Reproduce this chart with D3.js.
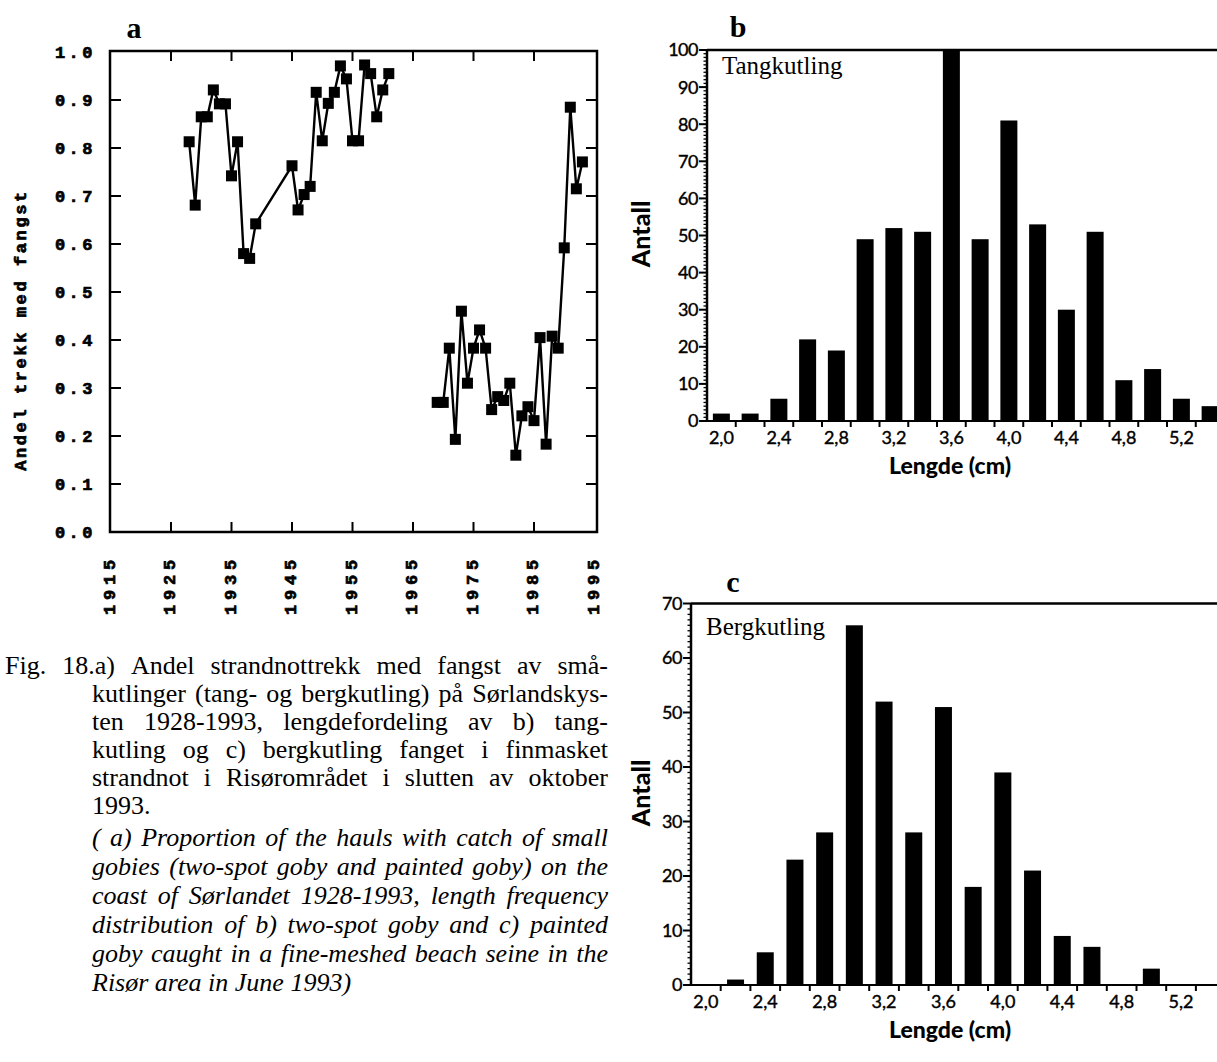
<!DOCTYPE html>
<html><head><meta charset="utf-8">
<script src="https://cdn.jsdelivr.net/npm/d3@7"></script>
<style>body{margin:0;background:#fff}svg{display:block}</style>
</head><body>
<svg id="chart" width="1217" height="1062"></svg>
<script>
// ---------- data ----------
const yearsEarly = [1928,1929,1930,1931,1932,1933,1934,1935,1936,1937,1938,1939,1945,1946,1947,1948,1949,1950,1951,1952,1953,1954,1955,1956,1957,1958,1959,1960,1961];
const valuesEarly = [0.813,0.681,0.865,0.865,0.921,0.892,0.892,0.742,0.813,0.58,0.57,0.642,0.763,0.671,0.703,0.72,0.916,0.815,0.893,0.916,0.971,0.944,0.815,0.815,0.973,0.955,0.865,0.921,0.955];
const yearsLate = [1969,1970,1971,1972,1973,1974,1975,1976,1977,1978,1979,1980,1981,1982,1983,1984,1985,1986,1987,1988,1989,1990,1991,1992,1993];
const valuesLate = [0.27,0.27,0.383,0.193,0.46,0.31,0.383,0.421,0.383,0.255,0.282,0.274,0.31,0.16,0.242,0.261,0.232,0.405,0.183,0.408,0.383,0.592,0.885,0.715,0.771];
const yearTicks = [1915,1925,1935,1945,1955,1965,1975,1985,1995];
const propTicks = [0,0.1,0.2,0.3,0.4,0.5,0.6,0.7,0.8,0.9,1.0];

const lengthBins = [2.0,2.2,2.4,2.6,2.8,3.0,3.2,3.4,3.6,3.8,4.0,4.2,4.4,4.6,4.8,5.0,5.2,5.4];
const countsTang = [2,2,6,22,19,49,52,51,100,49,81,53,30,51,11,14,6,4];
const countsBerg = [0,1,6,23,28,66,52,28,51,18,39,21,9,7,0,3,0,0];
const lengthTickLabels = [2.0,2.4,2.8,3.2,3.6,4.0,4.4,4.8,5.2];

const captionNo = [
 "Fig. 18.a) Andel strandnottrekk med fangst av små-",
 "kutlinger (tang- og bergkutling) på Sørlandskys-",
 "ten 1928-1993, lengdefordeling av b) tang-",
 "kutling og c) bergkutling fanget i finmasket",
 "strandnot i Risørområdet i slutten av oktober",
 "1993."];
const captionEn = [
 "( a) Proportion of the hauls with catch of small",
 "gobies (two-spot goby and painted goby) on the",
 "coast of Sørlandet 1928-1993, length frequency",
 "distribution of b) two-spot goby and c) painted",
 "goby caught in a fine-meshed beach seine in the",
 "Risør area in June 1993)"];

// ---------- drawing ----------
const svg = d3.select("#chart");
const serif = "'Liberation Serif','Times New Roman',serif";
const mono = "'Liberation Mono','Courier New',monospace";
const sans = "Lato,'Noto Sans',sans-serif";

// ===== Panel a =====
const ax = {l:110, r:597, t:51, b:532};
const xA = d3.scaleLinear().domain([1915,1995]).range([110.5,594.5]);
const yA = d3.scaleLinear().domain([0,1]).range([532,52]);
const gA = svg.append("g");
gA.append("rect").attr("x",ax.l).attr("y",ax.t).attr("width",ax.r-ax.l).attr("height",ax.b-ax.t)
  .attr("fill","none").attr("stroke","#000").attr("stroke-width",2.5);
propTicks.filter(v=>v>0&&v<1).forEach(v=>{
  gA.append("line").attr("x1",ax.l).attr("x2",ax.l+11).attr("y1",yA(v)).attr("y2",yA(v)).attr("stroke","#000").attr("stroke-width",2);
  gA.append("line").attr("x1",ax.r).attr("x2",ax.r-11).attr("y1",yA(v)).attr("y2",yA(v)).attr("stroke","#000").attr("stroke-width",2);
});
yearTicks.filter(y=>y>1915&&y<1995).forEach(y=>{
  gA.append("line").attr("x1",xA(y)).attr("x2",xA(y)).attr("y1",ax.t).attr("y2",ax.t+10).attr("stroke","#000").attr("stroke-width",2);
  gA.append("line").attr("x1",xA(y)).attr("x2",xA(y)).attr("y1",ax.b).attr("y2",ax.b-10).attr("stroke","#000").attr("stroke-width",2);
});
function monoText(sel){
  return sel.attr("font-family",mono).attr("font-weight","bold").attr("font-size",17)
    .attr("stroke","#000").attr("stroke-width",0.7);
}
propTicks.forEach(v=>{
  monoText(gA.append("text").attr("x",96).attr("y",yA(v)).attr("dy","0.36em")
    .attr("text-anchor","end")).attr("letter-spacing","3.5px").text(v.toFixed(1));
});
yearTicks.forEach(y=>{
  monoText(gA.append("text").attr("transform",`translate(${xA(y)-2},555) rotate(-90)`)
    .attr("dy","0.36em").attr("text-anchor","end")).attr("letter-spacing","4.8px").text(y);
});
monoText(gA.append("text").attr("transform","translate(20,330) rotate(-90)").attr("dy","0.36em")
  .attr("text-anchor","middle")).attr("letter-spacing","2.6px").text("Andel trekk med fangst");
gA.append("text").attr("x",134).attr("y",38).attr("text-anchor","middle")
  .attr("font-family",serif).attr("font-weight","bold").attr("font-size",30).text("a");

const lineA = d3.line().x(d=>xA(d[0])).y(d=>yA(d[1]));
[[yearsEarly,valuesEarly],[yearsLate,valuesLate]].forEach(([ys,vs])=>{
  const pts = ys.map((y,i)=>[y,vs[i]]);
  gA.append("path").datum(pts).attr("d",lineA).attr("fill","none").attr("stroke","#000").attr("stroke-width",2.4);
  gA.selectAll(null).data(pts).enter().append("rect")
    .attr("x",d=>xA(d[0])-5.5).attr("y",d=>yA(d[1])-5.5).attr("width",11).attr("height",11).attr("fill","#000");
});

// ===== Histogram panels =====
function histPanel(opt){
  const g = svg.append("g");
  const x = d3.scaleLinear().domain([1.9,5.5]).range([opt.x0, opt.x0+36*opt.step]);
  const y = d3.scaleLinear().domain([0,opt.max]).range([opt.y0, opt.top]);
  g.selectAll(null).data(lengthBins.map((b,i)=>[b,opt.counts[i]]).filter(d=>d[1]>0)).enter().append("rect")
    .attr("x",d=>x(d[0])-opt.barW/2).attr("y",d=>y(d[1])).attr("width",opt.barW)
    .attr("height",d=>y(0)-y(d[1])).attr("fill","#000");
  g.append("line").attr("x1",opt.x0).attr("x2",1217).attr("y1",opt.top).attr("y2",opt.top).attr("stroke","#000").attr("stroke-width",2.5);
  g.append("line").attr("x1",opt.x0).attr("x2",1217).attr("y1",opt.y0).attr("y2",opt.y0).attr("stroke","#000").attr("stroke-width",2);
  g.append("line").attr("x1",opt.x0).attr("x2",opt.x0).attr("y1",opt.top).attr("y2",opt.y0).attr("stroke","#000").attr("stroke-width",2.5);
  d3.range(0,opt.max+1,1).forEach(v=>{
    const major = v%10===0;
    g.append("line").attr("x1",opt.x0).attr("x2",opt.x0-(major?8:3.5)).attr("y1",y(v)).attr("y2",y(v))
      .attr("stroke","#000").attr("stroke-width",major?2:1.3);
    if(major) g.append("text").attr("x",opt.x0-9).attr("y",y(v)).attr("dy","0.36em")
      .attr("text-anchor","end").attr("font-family",sans).attr("font-size",18).attr("letter-spacing","-0.5px")
      .attr("stroke","#000").attr("stroke-width",0.4).text(v);
  });
  d3.range(0,18).map(i=>+(2.1+0.2*i).toFixed(1)).forEach(v=>{
    if(x(v)<1217) g.append("line").attr("x1",x(v)).attr("x2",x(v)).attr("y1",opt.y0).attr("y2",opt.y0+6)
      .attr("stroke","#000").attr("stroke-width",2);
  });
  lengthTickLabels.forEach(v=>{
    g.append("text").attr("x",x(v)).attr("y",opt.y0+23).attr("text-anchor","middle")
      .attr("font-family",sans).attr("font-size",18).attr("stroke","#000").attr("stroke-width",0.4)
      .text(v.toFixed(1).replace(".",","));
  });
  g.append("text").attr("x",950).attr("y",opt.y0+53).attr("text-anchor","middle")
    .attr("font-family",sans).attr("font-weight","900").attr("font-size",23).text("Lengde (cm)");
  g.append("text").attr("transform",`translate(641,${opt.antallY}) rotate(-90)`).attr("dy","0.35em")
    .attr("text-anchor","middle").attr("font-family",sans).attr("font-weight","900").attr("font-size",25).text("Antall");
  g.append("text").attr("x",opt.nameX).attr("y",opt.nameY).attr("font-family",serif).attr("font-size",25).text(opt.name);
  g.append("text").attr("x",opt.letterX).attr("y",opt.letterY).attr("text-anchor","middle")
    .attr("font-family",serif).attr("font-weight","bold").attr("font-size",30).text(opt.letter);
}
histPanel({counts:countsTang, max:100, x0:707, step:14.375, y0:421, top:50, barW:17,
  antallY:234, name:"Tangkutling", nameX:722, nameY:74, letter:"b", letterX:738, letterY:37});
histPanel({counts:countsBerg, max:70, x0:691, step:14.85, y0:985, top:603.5, barW:17,
  antallY:793, name:"Bergkutling", nameX:706, nameY:635, letter:"c", letterX:733, letterY:592});

// ===== Caption =====
const gC = svg.append("g");
const capSize = 26;
function measure(word, italic){
  const t = gC.append("text").attr("font-family",serif).attr("font-size",capSize)
    .attr("font-style",italic?"italic":"normal").text(word);
  const w = t.node().getComputedTextLength(); t.remove(); return w;
}
function captionLine(text, x0, x1, yb, italic, justify){
  const words = text.split(/\s+/);
  const ws = words.map(w=>measure(w,italic));
  const sp = capSize*0.25;
  const gap = justify && words.length>1 ? (x1-x0-d3.sum(ws))/(words.length-1) : sp;
  let x = x0;
  words.forEach((w,i)=>{
    gC.append("text").attr("x",x).attr("y",yb).attr("font-family",serif).attr("font-size",capSize)
      .attr("font-style",italic?"italic":"normal").text(w);
    x += ws[i]+gap;
  });
}
captionNo.forEach((t,i)=>captionLine(t, i===0?5:92, 608, 674+28*i, false, i<captionNo.length-1));
captionEn.forEach((t,i)=>captionLine(t, 92, 608, 846+29*i, true, i<captionEn.length-1));
</script>
</body></html>
